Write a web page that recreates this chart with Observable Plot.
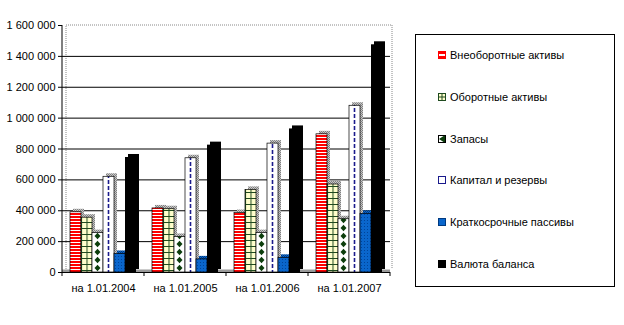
<!DOCTYPE html>
<html><head><meta charset="utf-8">
<script src="https://cdn.jsdelivr.net/npm/d3@7"></script>
<script src="https://cdn.jsdelivr.net/npm/@observablehq/plot@0.6"></script>
<style>
body{margin:0;background:#fff;font-family:"Liberation Sans",Arial,sans-serif;}
#wrap{position:relative;width:624px;height:325px;overflow:hidden;}
#legend{position:absolute;left:415px;top:34px;width:200px;height:253px;border:1px solid #000;box-sizing:border-box;background:#fff;}
.item{position:absolute;left:22px;height:14px;display:flex;align-items:center;font-size:11px;color:#000;white-space:nowrap;}
.item svg{margin-right:4px;overflow:visible;}
</style></head>
<body><div id="wrap"></div>
<script>
// ---- data ----
const dates = ["на 1.01.2004", "на 1.01.2005", "на 1.01.2006", "на 1.01.2007"];
const series = ["Внеоборотные активы", "Оборотные активы", "Запасы", "Капитал и резервы", "Краткосрочные пассивы", "Валюта баланса"];
const vneoborotnye = [390000, 415000, 385000, 895000];
const oborotnye = [355000, 410000, 535000, 570000];
const zapasy = [255000, 230000, 255000, 345000];
const kapital = [620000, 740000, 835000, 1080000];
const kratkosrochnye = [120000, 85000, 95000, 380000];
const valuta = [745000, 825000, 930000, 1475000];
const yTicks = [0, 200000, 400000, 600000, 800000, 1000000, 1200000, 1400000, 1600000];
const gridTicks = [200000, 400000, 600000, 800000, 1000000, 1200000, 1400000];

const seriesValues = [vneoborotnye, oborotnye, zapasy, kapital, kratkosrochnye, valuta];
const rows = dates.flatMap((d, i) => seriesValues.map((vals, j) => ({date: d, series: series[j], value: vals[i]})));

// ---- styles ----
const frontFills = ["url(#pRed)", "url(#pGreen)", "url(#pZap)", "url(#pKap)", "url(#pBlue)", "#000"];
const frontStrokes = ["#000", "#000", "#000", "#000", "#000", "none"];
const depthFills = ["url(#pGray)", "url(#pGray)", "url(#pGray)", "url(#pGray)", "url(#pBlueD)", "#000"];
const legendFills = ["url(#lRed)", "url(#lGreen)", "url(#lZap)", "#fff", "#0a66cc", "#000"];
const legendStrokes = ["#ff0000", "#1f4a1f", "#000", "#1a1a8c", "#003a80", "#000"];

const fmt = d3.formatLocale({thousands: "\u00a0", grouping: [3], decimal: ","}).format(",");

const depthMarks = series.map((s, i) => Plot.barY(rows.filter(r => r.series === s), {
  fx: "date", x: "series", y: "value", fill: depthFills[i], dx: 3, dy: -3
}));
const frontMarks = series.map((s, i) => Plot.barY(rows.filter(r => r.series === s), {
  fx: "date", x: "series", y: "value", fill: frontFills[i], stroke: frontStrokes[i], strokeWidth: 0.7
}));

const chart = Plot.plot({
  width: 624, height: 325,
  marginLeft: 62, marginRight: 234, marginTop: 25, marginBottom: 53,
  style: {fontFamily: "'Liberation Sans', Arial, sans-serif", fontSize: "11px", color: "#000", background: "transparent"},
  fx: {domain: dates, padding: 0, axis: "bottom", tickSize: 0, tickPadding: 12, label: null},
  x: {domain: series, paddingInner: 0, paddingOuter: 0.727, axis: null},
  y: {domain: [0, 1600000], ticks: yTicks, tickFormat: fmt, tickSize: 4, tickPadding: 3, label: null},
  marks: [
    Plot.ruleY([0], {stroke: "#999", strokeWidth: 3, dy: -1.5}),
    Plot.ruleY(gridTicks, {stroke: "#000", strokeWidth: 1}),
    ...depthMarks,
    ...frontMarks,
    Plot.ruleY([0], {stroke: "#000", strokeWidth: 1})
  ]
});

const svg = d3.select(chart);
const xScale = chart.scale("x");
const bw = xScale.bandwidth;
const bx = i => xScale.apply(series[i]);

// pattern definitions, aligned on the bars through the x scale
const defs = svg.insert("defs", ":first-child");
function pat(id, w, h, x, yy) {
  return defs.append("pattern").attr("id", id).attr("patternUnits", "userSpaceOnUse")
    .attr("width", w).attr("height", h).attr("x", x || 0).attr("y", yy || 0);
}
let p = pat("pRed", 12, 3);
p.append("rect").attr("width", 12).attr("height", 3).attr("fill", "#fff");
p.append("rect").attr("width", 12).attr("height", 2).attr("fill", "#ff0000");
p = pat("pGreen", 5.5, 6, bx(1));
p.append("rect").attr("width", 5.5).attr("height", 6).attr("fill", "#ffffcc");
p.append("rect").attr("width", 1).attr("height", 6).attr("fill", "#1f4a1f");
p.append("rect").attr("width", 5.5).attr("height", 1).attr("fill", "#1f4a1f");
p = pat("pZap", bw, 8, bx(2));
p.append("rect").attr("width", bw).attr("height", 8).attr("fill", "#fff");
p.append("path").attr("d", `M${bw/2},0.8L${bw/2+3},4L${bw/2},7.2L${bw/2-3},4Z`).attr("fill", "#0b3d0b");
p = pat("pKap", bw, 6, bx(3));
p.append("rect").attr("width", bw).attr("height", 6).attr("fill", "#fff");
p.append("rect").attr("x", bw/2 - 0.8).attr("width", 1.6).attr("height", 4).attr("fill", "#1a1a8c");
p = pat("pBlue", 3, 3);
p.append("rect").attr("width", 3).attr("height", 3).attr("fill", "#0a66cc");
p.append("rect").attr("x", 1).attr("y", 1).attr("width", 1).attr("height", 1).attr("fill", "#00449a");
p = pat("pGray", 2, 2);
p.append("rect").attr("width", 2).attr("height", 2).attr("fill", "#c8c8c8");
p.append("rect").attr("width", 1).attr("height", 1).attr("fill", "#808080");
p.append("rect").attr("x", 1).attr("y", 1).attr("width", 1).attr("height", 1).attr("fill", "#808080");
p = pat("pBlueD", 2, 2);
p.append("rect").attr("width", 2).attr("height", 2).attr("fill", "#0a66cc");
p.append("rect").attr("width", 1).attr("height", 1).attr("fill", "#003a80");
p.append("rect").attr("x", 1).attr("y", 1).attr("width", 1).attr("height", 1).attr("fill", "#003a80");
// legend swatch patterns (8x8 swatches)
p = pat("lRed", 8, 8);
p.append("rect").attr("width", 8).attr("height", 8).attr("fill", "#ff0000");
p.append("rect").attr("x", 1).attr("y", 3).attr("width", 6).attr("height", 2).attr("fill", "#fff");
p = pat("lGreen", 8, 8);
p.append("rect").attr("width", 8).attr("height", 8).attr("fill", "#ffffcc");
p.append("rect").attr("x", 3.5).attr("width", 1).attr("height", 8).attr("fill", "#1f4a1f");
p.append("rect").attr("y", 3.5).attr("width", 8).attr("height", 1).attr("fill", "#1f4a1f");
p = pat("lZap", 8, 8);
p.append("rect").attr("width", 8).attr("height", 8).attr("fill", "#fff");
p.append("path").attr("d", "M1,4L7,0V8Z").attr("fill", "#0b3d0b");

// axis decorations from scales
const fx = chart.scale("fx"), y = chart.scale("y");
const y0 = y.apply(0), yTop = y.apply(1600000);
const xs = dates.map(d => fx.apply(d));
const xEnd = xs[xs.length - 1] + fx.bandwidth;
svg.insert("path", "defs + *")
  .attr("d", `M${xs[0] + 4},${y0 - 3}V${yTop}H${xEnd + 2}V${y0 - 4}`)
  .attr("fill", "none").attr("stroke", "#888").attr("stroke-dasharray", "1,1");
svg.append("line").attr("x1", xs[0]).attr("x2", xs[0]).attr("y1", yTop).attr("y2", y0).attr("stroke", "#000");
[...xs, xEnd].forEach(x => svg.append("line").attr("x1", x).attr("x2", x).attr("y1", y0).attr("y2", y0 + 4).attr("stroke", "#000"));

const wrap = document.getElementById("wrap");
wrap.appendChild(chart);

// legend
const legend = document.createElement("div");
legend.id = "legend";
series.forEach((s, i) => {
  const it = document.createElement("div");
  it.className = "item";
  it.style.top = (13 + i * 41.8) + "px";
  it.innerHTML = `<svg width="8" height="8"><rect x="0.5" y="0.5" width="7" height="7" fill="${legendFills[i]}" stroke="${legendStrokes[i]}" stroke-width="1"/></svg><span>${s}</span>`;
  legend.appendChild(it);
});
wrap.appendChild(legend);
</script>
</body></html>
